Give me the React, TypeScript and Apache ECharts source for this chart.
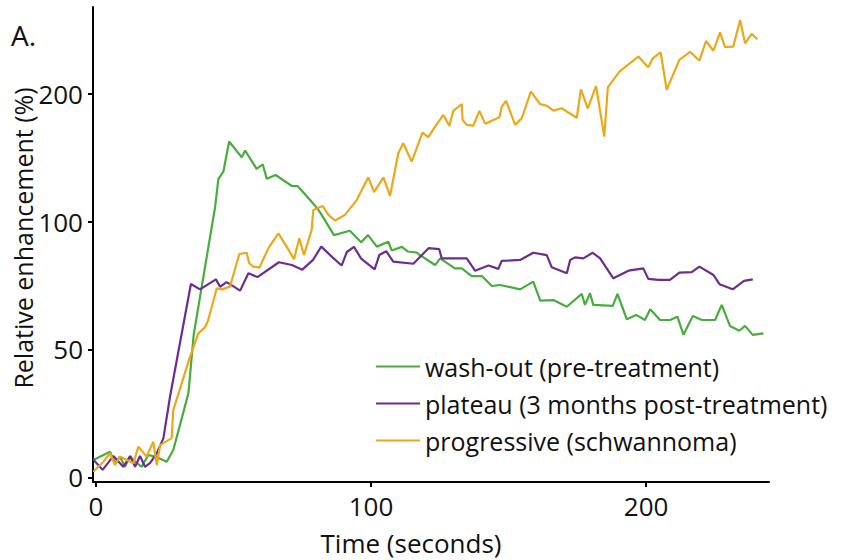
import React, { useEffect, useRef } from "react";
import * as echarts from "echarts";

const seriesNames = [
  "wash-out (pre-treatment)",
  "plateau (3 months post-treatment)",
  "progressive (schwannoma)",
];
const seriesColors = ["#4aab3f", "#6b2d8f", "#eaa91b"];

const washOutTime = [
  -1.0, 5.1, 6.9, 8.7, 10.5, 12.4, 14.2, 16.6, 19.0, 21.5, 25.7, 28.1, 33.6, 35.5, 43.3, 44.5, 46.3, 48.4,
  53.0, 54.2, 58.4, 60.6, 62.1, 65.3, 71.2, 73.3, 79.6, 81.5, 86.5, 92.3, 96.4, 98.9, 102.1, 106.3, 107.5,
  111.2, 113.3, 116.6, 117.8, 123.3, 125.1, 130.5, 133.0, 136.6, 140.3, 143.9, 146.9, 154.2, 159.0, 161.5,
  166.3, 171.2, 176.6, 177.8, 179.6, 180.8, 187.9, 189.6, 193.0, 196.4, 199.6, 201.5, 205.1, 208.7, 211.4,
  213.6, 217.0, 220.3, 225.1, 227.5, 230.5, 233.9, 236.0, 238.8, 242.7,
];
const washOutValues = [
  6.8, 10.0, 5.6, 8.1, 4.1, 8.1, 6.1, 4.1, 8.7, 8.1, 6.1, 10.7, 32.9, 55.7, 105.7, 116.7, 119.5, 131.3,
  125.1, 127.8, 120.6, 122.4, 116.7, 118.2, 113.9, 113.9, 106.3, 103.6, 94.7, 96.4, 91.9, 94.7, 90.2, 92.1, 88.7,
  90.1, 88.3, 87.9, 86.9, 83.0, 85.6, 81.7, 81.7, 78.7, 78.7, 74.8, 75.2, 73.5, 76.5, 69.1,
  69.3, 66.7, 71.7, 67.4, 72.0, 67.4, 67.0, 71.7, 61.8, 63.5, 61.5, 65.7, 61.5, 61.5, 62.8,
  55.7, 63.1, 61.5, 61.5, 67.4, 59.2, 57.3, 59.2, 55.7, 56.3,
];

const plateauTime = [
  -1.0, 2.4, 6.3, 9.9, 12.4, 14.2, 16.0, 17.8, 19.6, 22.1, 24.5, 26.9, 34.5, 37.8, 43.6, 45.1, 47.5, 52.4,
  55.4, 58.7, 66.5, 71.2, 75.0, 78.9, 81.9, 86.0, 89.3, 91.2, 93.8, 96.4, 101.3, 103.0, 105.5, 108.1, 115.4,
  120.9, 124.8, 125.7, 134.8, 137.8, 142.7, 146.3, 147.5, 154.2, 159.0, 163.9, 165.7, 171.2, 172.4, 174.2,
  177.2, 180.6, 183.3, 188.1, 193.6, 199.0, 200.8, 204.5, 208.7, 212.1, 216.6, 219.4, 224.5, 226.7, 231.5,
  235.6, 238.8,
];
const plateauValues = [
  7.0, 2.9, 8.3, 4.1, 8.3, 4.1, 8.3, 4.1, 5.5, 9.4, 15.3, 31.5, 75.6, 73.5, 77.4, 74.5, 76.3, 73.0,
  79.8, 78.3, 84.1, 83.0, 81.2, 85.0, 90.2, 86.0, 82.8, 88.1, 90.1, 85.5, 81.3, 86.9, 88.4, 84.3, 83.5,
  89.6, 89.2, 85.6, 85.6, 80.8, 82.8, 81.5, 84.6, 85.0, 87.8, 86.9, 82.1, 79.8, 85.0, 86.0,
  85.6, 87.8, 85.6, 77.8, 80.8, 81.7, 77.6, 77.2, 77.2, 80.0, 80.2, 82.4, 79.1, 75.5, 73.5,
  76.8, 77.4,
];

const progressiveTime = [
  -1.0, 2.7, 5.1, 6.9, 8.7, 13.6, 15.4, 18.4, 20.8, 22.1, 23.3, 27.5, 28.1, 34.2, 37.2, 39.6, 40.8, 43.9,
  45.7, 48.7, 52.1, 54.8, 55.7, 57.2, 59.4, 62.7, 66.3, 69.3, 72.0, 73.9, 75.6, 78.4, 79.0, 82.4, 84.5,
  86.9, 90.5, 94.8, 99.0, 101.1, 104.5, 106.9, 109.9, 111.7, 114.8, 118.7, 120.8, 123.3, 126.3, 128.5,
  129.9, 133.0, 133.3, 134.8, 137.2, 139.4, 141.5, 146.7, 147.5, 149.1, 152.4, 154.8, 158.1, 161.5, 163.9,
  166.3, 169.3, 174.8, 176.3, 178.8, 181.8, 184.8, 186.1, 190.3, 197.2, 200.8, 202.4, 205.3, 207.5, 212.1,
  216.0, 219.4, 221.8, 224.5, 226.9, 228.7, 231.7, 234.2, 236.0, 238.4, 240.5,
];
const progressiveValues = [
  2.2, 6.1, 9.4, 4.8, 8.1, 5.5, 12.0, 8.1, 13.9, 4.8, 12.6, 15.3, 26.3, 47.2, 56.3, 58.6, 61.5, 73.9,
  73.5, 74.5, 87.3, 87.8, 83.7, 82.4, 82.0, 89.6, 95.4, 90.2, 85.3, 93.5, 86.9, 96.7, 104.5, 106.1, 102.6,
  100.4, 102.6, 108.4, 117.3, 111.5, 117.3, 110.0, 126.7, 130.6, 123.4, 134.8, 133.0, 137.1, 141.7, 137.4,
  143.3, 145.9, 139.7, 137.8, 137.5, 143.3, 138.2, 140.8, 144.9, 147.2, 137.8, 140.4, 150.8, 145.9, 145.3,
  143.4, 144.3, 140.6, 151.7, 144.3, 153.0, 133.2, 152.5, 158.6, 164.5, 160.3, 163.8, 166.2, 151.5, 163.2,
  166.4, 162.9, 170.6, 166.8, 174.0, 168.2, 168.4, 178.8, 169.7, 173.4, 171.3,
];

const xTickValues = [0, 100, 200];
const xTickLabels = ["0", "100", "200"];
const yTickValues = [0, 50, 100, 150];
const yTickLabels = ["0", "50", "100", "200"];
const yAxisTitle = "Relative enhancement (%)";

const FONT = "Open Sans";
const FS = 26;

function zip(t: number[], v: number[]) {
  return t.map((x, i) => [x, v[i]]);
}

export default function App() {
  const ref = useRef<HTMLDivElement>(null);
  useEffect(() => {
    if (!ref.current) return;
    const chart = echarts.init(ref.current, undefined, { renderer: "svg" });
    const datasets = [
      zip(washOutTime, washOutValues),
      zip(plateauTime, plateauValues),
      zip(progressiveTime, progressiveValues),
    ];
    chart.setOption({
      animation: false,
      backgroundColor: "#ffffff",
      textStyle: { fontFamily: FONT, color: "#111" },
      grid: { left: 93, right: 73, top: 7, bottom: 78, containLabel: false, outerBoundsMode: "none" },
      legend: {
        orient: "vertical",
        left: 376,
        top: 352,
        padding: 0,
        itemWidth: 44,
        itemHeight: 2,
        itemGap: 8,
        icon: "rect",
        textStyle: { fontFamily: FONT, fontSize: 25, color: "#111", lineHeight: 29 },
        data: seriesNames,
      },
      graphic: [
        {
          type: "text",
          left: 11,
          top: 21,
          style: { text: "A.", fontFamily: FONT, fontSize: 28, fill: "#111" },
        },
        {
          type: "text",
          x: 23,
          y: 238,
          rotation: Math.PI / 2,
          style: {
            text: yAxisTitle,
            fontFamily: FONT,
            fontSize: 25,
            fill: "#111",
            align: "center",
            verticalAlign: "middle",
          },
        },
      ],
      xAxis: {
        type: "value",
        min: -1.1,
        max: 244.7,
        name: "Time (seconds)",
        nameLocation: "middle",
        nameGap: 48,
        nameTextStyle: { fontFamily: FONT, fontSize: FS, color: "#111", padding: [0, 40, 0, 0] },
        axisLine: { show: true, onZero: false, lineStyle: { color: "#000", width: 2 } },
        axisTick: { show: true, length: 5, lineStyle: { color: "#000", width: 2 }, customValues: xTickValues },
        axisLabel: {
          fontFamily: FONT,
          fontSize: FS,
          color: "#111",
          margin: 11,
          customValues: xTickValues,
          formatter: (v: number) => {
            const i = xTickValues.indexOf(Math.round(v));
            return i >= 0 ? xTickLabels[i] : "";
          },
        },
        splitLine: { show: false },
      },
      yAxis: {
        type: "value",
        min: -1.84,
        max: 183.9,
        axisLine: { show: true, onZero: false, lineStyle: { color: "#000", width: 2 } },
        axisTick: { show: true, length: 5, lineStyle: { color: "#000", width: 2 }, customValues: yTickValues },
        axisLabel: {
          fontFamily: FONT,
          fontSize: FS,
          color: "#111",
          margin: 10,
          customValues: yTickValues,
          formatter: (v: number) => {
            const i = yTickValues.indexOf(Math.round(v));
            return i >= 0 ? yTickLabels[i] : "";
          },
        },
        splitLine: { show: false },
      },
      series: datasets.map((d, i) => ({
        type: "line",
        name: seriesNames[i],
        data: d,
        showSymbol: false,
        symbol: "none",
        color: seriesColors[i],
        lineStyle: { color: seriesColors[i], width: 2.2 },
        z: 2 + i,
      })),
    });
    return () => chart.dispose();
  }, []);
  return (
    <div
      ref={ref}
      style={{ position: "fixed", left: 0, top: 0, width: 842, height: 560 }}
    />
  );
}
